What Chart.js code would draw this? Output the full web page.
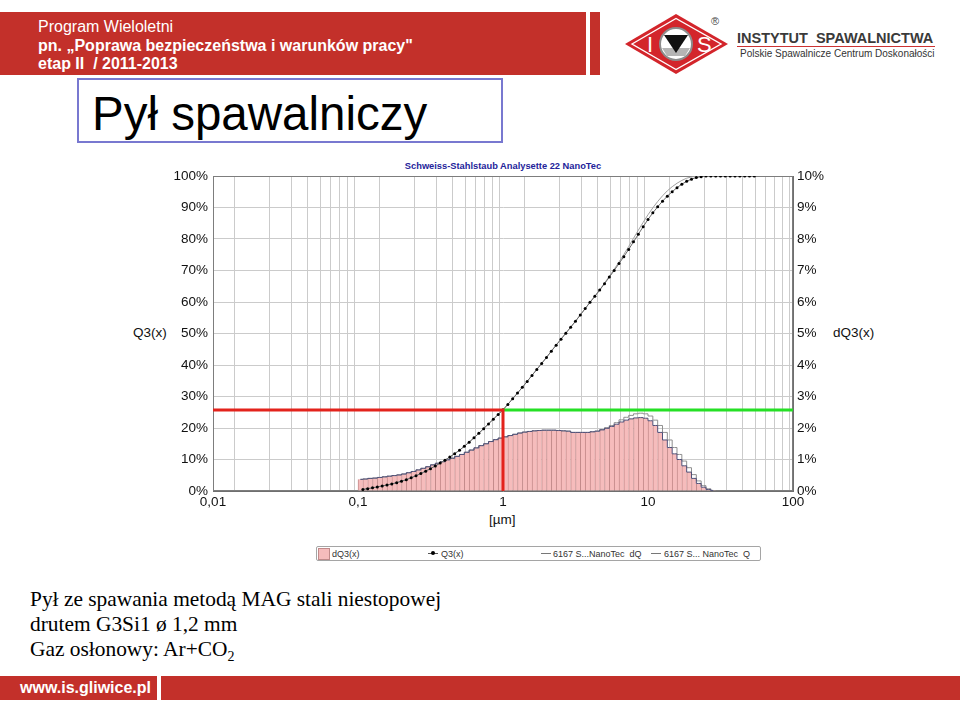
<!DOCTYPE html>
<html lang="pl">
<head>
<meta charset="utf-8">
<title>Pył spawalniczy</title>
<script src="https://cdn.jsdelivr.net/npm/chart.js@4.4.0/dist/chart.umd.min.js"></script>
<style>
  body { margin: 0; width: 960px; height: 710px; position: relative; overflow: hidden; background: #fff;
         font-family: "Liberation Sans", Arial, sans-serif; }
  .abs { position: absolute; white-space: nowrap; }
  .band { background: #c3302a; }
  .hdr { color: #fff; font-size: 16px; line-height: 16px; left: 38px; }
  .tick { font-size: 13.5px; color: #111; }
  .leg { font-size: 9px; color: #333; line-height: 12px; }
</style>
</head>
<body>
<!-- header bands -->
<div class="abs band" style="left:0;top:12px;width:586px;height:63px"></div>
<div class="abs band" style="left:590px;top:12px;width:10px;height:63px"></div>
<div class="abs hdr" style="top:19px">Program Wieloletni</div>
<div class="abs hdr" style="top:38px;font-weight:bold">pn. „Poprawa bezpieczeństwa i warunków pracy"</div>
<div class="abs hdr" style="top:56px;font-weight:bold">etap II&nbsp; / 2011-2013</div>

<!-- logo -->
<svg class="abs" style="left:620px;top:10px" width="120" height="70" viewBox="0 0 120 70">
  <polygon points="5,34 56,4 108,34 56,64" fill="#d3252b"/>
  <polygon points="12,34 56,8.5 101,34 56,59.5" fill="none" stroke="#fff" stroke-width="1.4"/>
  <circle cx="56" cy="34" r="16" fill="#fff" stroke="#8c8c8c" stroke-width="2"/>
  <path d="M42,38 L70,38 L65,46 L47,46 Z" fill="#b5b5b5"/>
  <path d="M44,25 L68,25 L56,43 Z" fill="#111"/>
  <text x="27" y="42" fill="#fff" font-size="22" font-family="Liberation Sans">I</text>
  <text x="77" y="42" fill="#fff" font-size="22" font-family="Liberation Sans">S</text>
  <text x="91" y="15" fill="#444" font-size="11" font-family="Liberation Sans">®</text>
</svg>
<div class="abs" style="left:737px;top:30px;font-size:14.5px;font-weight:bold;color:#3a3a3a">INSTYTUT&nbsp; SPAWALNICTWA</div>
<div class="abs" style="left:737px;top:46px;width:198px;height:1px;background:#c33"></div>
<div class="abs" style="left:740px;top:48px;font-size:10px;color:#333">Polskie Spawalnicze Centrum Doskonałości</div>

<!-- title box -->
<div class="abs" style="left:77px;top:78px;width:422px;height:61px;border:2px solid #7878d0"></div>
<div class="abs" style="left:92px;top:90px;font-size:47.5px;line-height:47.5px;color:#000">Pył spawalniczy</div>

<!-- chart texts -->
<div class="abs" style="left:353px;top:161px;width:300px;text-align:center;font-size:9.3px;font-weight:bold;color:#24249a">Schweiss-Stahlstaub Analysette 22 NanoTec</div>
<div class="abs tick" style="left:133px;top:325px">Q3(x)</div>
<div class="abs tick" style="left:833px;top:325px">dQ3(x)</div>
<div class="abs tick" style="left:489px;top:512px">[µm]</div>

<div class="abs" style="left:110px;top:155px;width:790px;height:380px">
  <canvas id="psdChart" width="790" height="380"></canvas>
</div>

<!-- legend -->
<div class="abs" style="left:316px;top:546px;width:443px;height:13px;border:1px solid #a5a5a5;border-radius:2px"></div>
<div class="abs" style="left:318px;top:548px;width:10px;height:10px;background:#f6bcbc;border:1px solid #c08a8a"></div>
<div class="abs leg" style="left:332px;top:548px">dQ3(x)</div>
<div class="abs" style="left:428px;top:553px;width:10px;height:1px;background:#555"></div>
<div class="abs" style="left:431px;top:551px;width:4px;height:4px;border-radius:2px;background:#000"></div>
<div class="abs leg" style="left:441px;top:548px">Q3(x)</div>
<div class="abs" style="left:541px;top:553px;width:10px;height:1px;background:#777"></div>
<div class="abs leg" style="left:553px;top:548px">6167 S...NanoTec&nbsp; dQ</div>
<div class="abs" style="left:651px;top:553px;width:10px;height:1px;background:#777"></div>
<div class="abs leg" style="left:664px;top:548px">6167 S... NanoTec&nbsp; Q</div>

<!-- description -->
<div class="abs" style="left:30px;top:587px;font-family:'Liberation Serif','Times New Roman',serif;font-size:21.4px;line-height:25px;color:#000">
  Pył ze spawania metodą MAG stali niestopowej<br>
  drutem G3Si1 ø 1,2 mm<br>
  Gaz osłonowy: Ar+CO<sub style="font-size:14px;line-height:0">2</sub>
</div>

<!-- footer band -->
<div class="abs band" style="left:0;top:676px;width:157px;height:24px"></div>
<div class="abs band" style="left:161px;top:676px;width:799px;height:24px"></div>
<div class="abs" style="left:20px;top:679px;font-size:16px;font-weight:bold;color:#fff">www.is.gliwice.pl</div>

<script>
// size classes (bin centres, µm) and their density values dQ3 (%)
const binCenters = [
  0.1039, 0.1122, 0.1212, 0.1308, 0.1413, 0.1525, 0.1647, 0.1778, 0.1920, 0.2073,
  0.2239, 0.2417, 0.2610, 0.2818, 0.3043, 0.3286, 0.3548, 0.3831, 0.4137, 0.4467,
  0.4823, 0.5208, 0.5623, 0.6072, 0.6556, 0.7079, 0.7644, 0.8254, 0.8913, 0.9624,
  1.039, 1.122, 1.212, 1.308, 1.413, 1.525, 1.647, 1.778, 1.920, 2.073,
  2.239, 2.417, 2.610, 2.818, 3.043, 3.286, 3.548, 3.831, 4.137, 4.467,
  4.823, 5.208, 5.623, 6.072, 6.556, 7.079, 7.644, 8.254, 8.913, 9.624,
  10.39, 11.22, 12.12, 13.08, 14.13, 15.25, 16.47, 17.78, 19.20, 20.73,
  22.39, 24.17, 26.10, 28.18
];
const dQ3 = [
  0.37, 0.38, 0.40, 0.41, 0.43, 0.45, 0.47, 0.49, 0.51, 0.54,
  0.58, 0.62, 0.67, 0.72, 0.77, 0.83, 0.88, 0.93, 0.99, 1.04,
  1.10, 1.16, 1.23, 1.30, 1.37, 1.44, 1.50, 1.57, 1.63, 1.68,
  1.72, 1.76, 1.80, 1.84, 1.87, 1.89, 1.91, 1.92, 1.93, 1.93,
  1.93, 1.92, 1.91, 1.90, 1.86, 1.86, 1.86, 1.86, 1.88, 1.90,
  1.94, 1.99, 2.05, 2.12, 2.19, 2.25, 2.29, 2.32, 2.33, 2.31,
  2.23, 2.08, 1.86, 1.62, 1.38, 1.18, 1.00, 0.80, 0.60, 0.40,
  0.24, 0.12, 0.05, 0.01
];
// reference measurement "6167 S...NanoTec dQ"
const dQRef = [
  0.37, 0.38, 0.40, 0.41, 0.43, 0.45, 0.47, 0.49, 0.51, 0.54,
  0.58, 0.62, 0.67, 0.72, 0.77, 0.83, 0.88, 0.93, 0.99, 1.04,
  1.10, 1.16, 1.23, 1.30, 1.37, 1.44, 1.50, 1.57, 1.63, 1.68,
  1.72, 1.76, 1.80, 1.84, 1.87, 1.89, 1.91, 1.92, 1.93, 1.93,
  1.93, 1.92, 1.91, 1.90, 1.86, 1.86, 1.86, 1.86, 1.88, 1.90,
  1.95, 2.01, 2.08, 2.17, 2.26, 2.34, 2.40, 2.45, 2.47, 2.45,
  2.38, 2.25, 2.08, 1.86, 1.62, 1.38, 1.16, 0.95, 0.74, 0.52,
  0.32, 0.17, 0.07, 0.02
];

// upper class limits (µm) and cumulative Q3 (%)
const edgeSizes = [
  0.1080, 0.1166, 0.1259, 0.1359, 0.1468, 0.1585, 0.1711, 0.1848, 0.1995, 0.2154,
  0.2326, 0.2512, 0.2712, 0.2929, 0.3162, 0.3415, 0.3687, 0.3981, 0.4299, 0.4642,
  0.5012, 0.5412, 0.5843, 0.6310, 0.6813, 0.7356, 0.7943, 0.8577, 0.9261, 1.000,
  1.080, 1.166, 1.259, 1.359, 1.468, 1.585, 1.711, 1.848, 1.995, 2.154,
  2.326, 2.512, 2.712, 2.929, 3.162, 3.415, 3.687, 3.981, 4.299, 4.642,
  5.012, 5.412, 5.843, 6.310, 6.813, 7.356, 7.943, 8.577, 9.261, 10.00,
  10.80, 11.66, 12.59, 13.59, 14.68, 15.85, 17.11, 18.48, 19.95, 21.54,
  23.26, 25.12, 27.12, 29.29, 31.62, 34.15, 36.87, 39.81, 42.99, 46.42,
  50.12, 54.12
];
const Q3 = [
  0.5, 0.75, 1.0, 1.3, 1.6, 1.9, 2.25, 2.65, 3.1, 3.6,
  4.2, 4.85, 5.55, 6.3, 7.1, 7.95, 8.85, 9.8, 10.8, 11.85,
  12.95, 14.2, 15.5, 16.9, 18.3, 19.8, 21.3, 22.8, 24.3, 25.8,
  27.5, 29.3, 31.1, 32.9, 34.8, 36.7, 38.6, 40.5, 42.4, 44.4,
  46.3, 48.2, 50.1, 52.0, 53.9, 55.9, 57.9, 59.9, 61.8, 63.8,
  65.8, 67.9, 70.0, 72.2, 74.4, 76.7, 79.1, 81.5, 83.9, 86.2,
  88.3, 90.2, 92.0, 93.6, 95.0, 96.3, 97.4, 98.3, 99.0, 99.5,
  99.8, 100, 100, 100, 100, 100, 100, 100, 100, 100,
  100, 100
];
// reference measurement "6167 S... NanoTec Q"
const QRef = [
  0.5, 0.75, 1.0, 1.3, 1.6, 1.9, 2.25, 2.65, 3.1, 3.6,
  4.2, 4.85, 5.55, 6.3, 7.1, 7.95, 8.85, 9.8, 10.8, 11.85,
  12.95, 14.2, 15.5, 16.9, 18.3, 19.8, 21.3, 22.8, 24.3, 25.8,
  27.5, 29.3, 31.1, 32.9, 34.8, 36.7, 38.6, 40.5, 42.4, 44.4,
  46.3, 48.2, 50.1, 52.0, 53.9, 55.9, 57.9, 59.9, 61.8, 63.8,
  66.0, 68.2, 70.4, 72.7, 75.1, 77.6, 80.2, 82.8, 85.3, 87.7,
  89.9, 91.9, 93.7, 95.3, 96.6, 97.7, 98.6, 99.3, 99.7, 99.9,
  100, 100, 100, 100, 100, 100, 100, 100, 100, 100,
  100, 100
];

// marker: Q3 at 1 µm
const markSize = 1;
const markQ3 = 25.7;

// x axis: decades with labels, minor grid at 2..9
const xMajors = [0.01, 0.1, 1, 10, 100];
const xTickLabels = ["0,01", "0,1", "1", "10", "100"];
const xMinorSteps = [2, 3, 4, 5, 6, 7, 8, 9];

const pts = (xs, ys) => xs.map((x, i) => ({ x: x, y: ys[i] }));

const xGrid = [];
xMajors.forEach((m, i) => {
  xGrid.push(m);
  if (i < xMajors.length - 1) xMinorSteps.forEach(s => xGrid.push(m * s));
});

const FONT = "'Liberation Sans', Arial, sans-serif";

const framePlugin = {
  id: "frame",
  beforeDatasetsDraw(chart) {
    const { ctx, chartArea: a } = chart;
    ctx.save();
    ctx.strokeStyle = "#7d7d7d";
    ctx.lineWidth = 1;
    ctx.strokeRect(a.left + 0.5, a.top + 0.5, a.right - a.left - 1, a.bottom - a.top - 1);
    ctx.restore();
  }
};

const ctx = document.getElementById("psdChart").getContext("2d");
new Chart(ctx, {
  data: {
    datasets: [
      {
        type: "bar",
        label: "dQ3(x)",
        data: pts(binCenters, dQ3),
        yAxisID: "y2",
        backgroundColor: "#f6bcbc",
        borderColor: "#c48a8a",
        borderWidth: { left: 1, right: 0, top: 0, bottom: 0 },
        borderSkipped: false,
        barPercentage: 1,
        categoryPercentage: 1,
        order: 9
      },
      {
        type: "line",
        label: "6167 S...NanoTec dQ",
        data: pts(binCenters, dQRef),
        yAxisID: "y2",
        stepped: "middle",
        borderColor: "#8f8f8f",
        borderWidth: 1,
        pointRadius: 0,
        order: 8
      },
      {
        type: "line",
        label: "dQ3 outline",
        data: pts(binCenters, dQ3),
        yAxisID: "y2",
        stepped: "middle",
        borderColor: "#4f4f78",
        borderWidth: 1,
        pointRadius: 0,
        order: 7
      },
      {
        type: "line",
        label: "6167 S... NanoTec Q",
        data: pts(edgeSizes, QRef),
        yAxisID: "y",
        borderColor: "#a0a0a0",
        borderWidth: 1,
        pointRadius: 0,
        order: 6
      },
      {
        type: "line",
        label: "Q3(x)",
        data: pts(edgeSizes, Q3),
        yAxisID: "y",
        borderColor: "#6a6a6a",
        borderWidth: 1,
        pointRadius: 1.5,
        pointBackgroundColor: "#000",
        pointBorderWidth: 0,
        order: 5
      },
      {
        type: "line",
        label: "marker",
        data: [{ x: xMajors[0], y: markQ3 }, { x: markSize, y: markQ3 }, { x: markSize, y: 0 }],
        yAxisID: "y",
        borderColor: "#e3231c",
        borderWidth: 3,
        pointRadius: 0,
        order: 1
      },
      {
        type: "line",
        label: "level",
        data: [{ x: markSize, y: markQ3 }, { x: xMajors[xMajors.length - 1], y: markQ3 }],
        yAxisID: "y",
        borderColor: "#25e025",
        borderWidth: 3,
        pointRadius: 0,
        order: 2
      }
    ]
  },
  options: {
    responsive: false,
    animation: false,
    layout: { padding: { top: 21, left: 0, right: 0, bottom: 0 } },
    plugins: { legend: { display: false }, tooltip: { enabled: false } },
    scales: {
      x: {
        type: "logarithmic",
        min: 0.01,
        max: 100,
        afterBuildTicks: s => { s.ticks = xGrid.map(v => ({ value: v })); },
        afterFit: s => { s.height = 44; },
        grid: { color: "#cbcbcb", drawTicks: false },
        border: { color: "#6f6f6f" },
        ticks: {
          autoSkip: false,
          maxRotation: 0,
          minRotation: 0,
          padding: 3,
          color: "#111",
          font: { family: FONT, size: 13.5 },
          callback: v => {
            const i = xMajors.findIndex(m => Math.abs(m - v) < m * 1e-6);
            return i >= 0 ? xTickLabels[i] : "";
          }
        }
      },
      y: {
        position: "left",
        min: 0,
        max: 100,
        afterFit: s => { s.width = 103; },
        grid: { color: "#cbcbcb", drawTicks: false },
        border: { color: "#6f6f6f" },
        ticks: {
          stepSize: 10,
          padding: 5,
          color: "#111",
          font: { family: FONT, size: 13.5 },
          callback: v => v + "%"
        }
      },
      y2: {
        position: "right",
        min: 0,
        max: 10,
        afterFit: s => { s.width = 107; },
        grid: { drawOnChartArea: false, drawTicks: false },
        border: { color: "#6f6f6f" },
        ticks: {
          stepSize: 1,
          padding: 4,
          color: "#111",
          font: { family: FONT, size: 13.5 },
          callback: v => v + "%"
        }
      }
    }
  },
  plugins: [framePlugin]
});
</script>
</body>
</html>
